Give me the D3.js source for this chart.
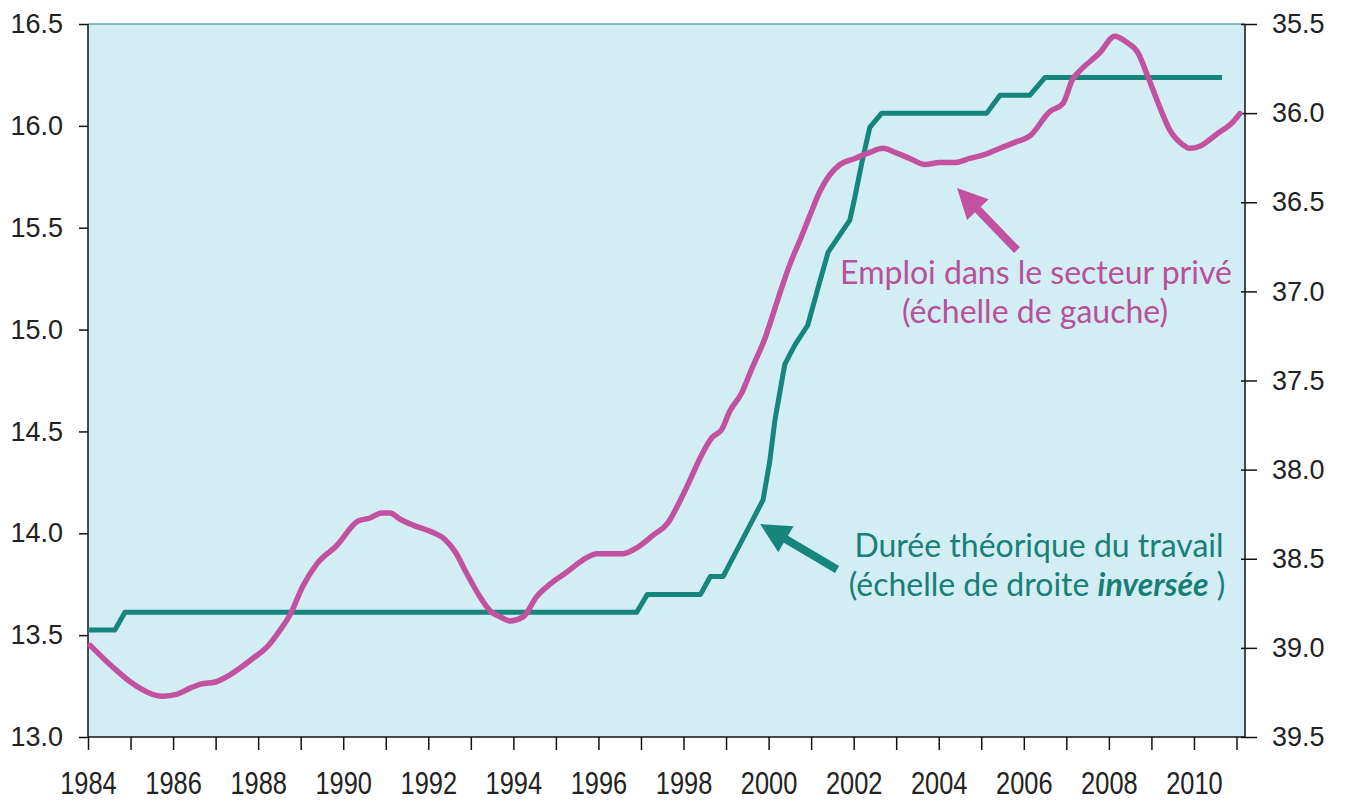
<!DOCTYPE html>
<html>
<head>
<meta charset="utf-8">
<script src="https://cdn.jsdelivr.net/npm/d3@7"></script>
<style>
  html, body { margin: 0; padding: 0; background: #ffffff; }
  svg { display: block; }
</style>
</head>
<body>
<svg id="chart" width="1347" height="803"></svg>
<script>
// ---- Data ----
const empYears = [1984.05,1984.6,1985.0,1985.4,1985.75,1986.1,1986.4,1986.65,1987.0,1987.3,1987.65,1987.9,1988.2,1988.5,1988.75,
  1989.05,1989.38,1989.85,1990.35,1990.63,1990.91,1991.1,1991.33,1991.64,1992.04,1992.39,1992.63,1992.91,1993.21,1993.45,1993.69,1993.92,
  1994.23,1994.55,1994.86,1995.26,1995.64,1995.97,1996.27,1996.58,1996.91,1997.28,1997.63,1997.92,1998.15,1998.39,1998.67,1998.9,
  1999.09,1999.37,1999.61,1999.92,2000.22,2000.5,2000.74,2000.97,2001.21,2001.44,2001.68,2002.03,2002.38,2002.69,2002.97,2003.32,
  2003.68,2004.03,2004.38,2004.73,2005.09,2005.44,2005.8,2006.14,2006.61,2006.92,2007.15,2007.27,2007.79,2008.14,2008.42,2008.68,
  2008.92,2009.2,2009.43,2009.72,2009.9,2010.14,2010.54,2010.92,2011.08];
const empValues = [13.45,13.34,13.27,13.22,13.20,13.21,13.24,13.26,13.27,13.30,13.35,13.39,13.44,13.52,13.60,
  13.74,13.85,13.94,14.06,14.075,14.10,14.10,14.07,14.04,14.01,13.97,13.91,13.80,13.69,13.62,13.59,13.57,
  13.59,13.69,13.75,13.81,13.87,13.90,13.90,13.90,13.93,13.99,14.05,14.16,14.26,14.37,14.47,14.51,
  14.60,14.69,14.81,14.96,15.15,15.32,15.44,15.56,15.68,15.76,15.81,15.84,15.87,15.89,15.87,15.84,
  15.81,15.82,15.82,15.84,15.86,15.89,15.92,15.95,16.07,16.11,16.23,16.26,16.36,16.44,16.41,16.36,
  16.24,16.09,15.98,15.91,15.89,15.90,15.96,16.02,16.06];

const durYears = [1984.0,1984.63,1984.87,1996.9,1997.15,1998.4,1998.63,1998.93,1999.63,1999.87,2000.03,2000.15,2000.38,2000.62,
  2000.92,2001.21,2001.4,2001.91,2002.03,2002.19,2002.38,2002.66,2005.13,2005.44,2006.14,2006.5,2010.66];
const durValues = [38.9,38.9,38.8,38.8,38.7,38.7,38.6,38.6,38.28,38.17,37.95,37.72,37.41,37.30,
  37.19,36.94,36.78,36.60,36.47,36.28,36.08,36.0,36.0,35.9,35.9,35.8,35.8];

const xTicks = d3.range(1984, 2012, 1);
const xLabels = d3.range(1984, 2012, 2);
const leftTicks = [13.0,13.5,14.0,14.5,15.0,15.5,16.0,16.5];
const rightTicks = [35.5,36.0,36.5,37.0,37.5,38.0,38.5,39.0,39.5];

const empLabel = ["Emploi dans le secteur privé", "(échelle de gauche)"];
const durLabel1 = "Durée théorique du travail";
const durLabel2a = "(échelle de droite ";
const durLabel2b = "inversée";
const durLabel2c = " )";

// ---- Layout ----
const L = 88, R = 1245, T = 24, B = 737;
const MAG = "#c2529f", TEAL = "#16857b", MAGTXT = "#b8509a", TEALTXT = "#187f77";

const svg = d3.select("#chart");
const x = d3.scaleLinear().domain([1984, 2011.2]).range([L, R]);
const yL = d3.scaleLinear().domain([13, 16.5]).range([B, T]);
const yR = d3.scaleLinear().domain([35.5, 39.5]).range([T, B]);

// plot background
svg.append("rect").attr("x", L).attr("y", T).attr("width", R - L).attr("height", B - T).attr("fill", "#d3edf4");
svg.append("line").attr("x1", L).attr("x2", R).attr("y1", T).attr("y2", T).attr("stroke", "#6aa8aa").attr("stroke-width", 1.5);

const numFont = "'Liberation Sans', Arial, sans-serif";

// Left axis
const gL = svg.append("g").attr("transform", `translate(${L},0)`)
  .call(d3.axisLeft(yL).tickValues(leftTicks).tickFormat(d3.format(".1f")).tickSize(9).tickPadding(16));
// Right axis
const gR = svg.append("g").attr("transform", `translate(${R},0)`)
  .call(d3.axisRight(yR).tickValues(rightTicks).tickFormat(d3.format(".1f")).tickSize(12).tickPadding(15));
gR.selectAll(".tick line").attr("x1", -4);
// Bottom axis
const gB = svg.append("g").attr("transform", `translate(0,${B})`)
  .call(d3.axisBottom(x).tickValues(xTicks).tickFormat(d => xLabels.includes(d) ? d : "").tickSize(13).tickPadding(22));

[gL, gR].forEach(g => {
  g.selectAll("text").attr("font-family", numFont).attr("font-size", 27).attr("fill", "#222");
});
gB.selectAll("text").attr("font-family", numFont)
  .attr("font-size", 31).attr("fill", "#222").attr("transform", "scale(0.82,1)");
[gL, gR, gB].forEach(g => {
  g.selectAll(".domain").attr("stroke", "#111").attr("stroke-width", 1.5);
  g.selectAll(".tick line").attr("stroke", "#111").attr("stroke-width", 1.5);
});
gB.select(".domain").attr("d", `M${L},0H${R}`);
gL.select(".domain").attr("d", `M0,${T}V${B}`);
gR.select(".domain").attr("d", `M0,${T}V${B}`);

// Lines
const empData = empYears.map((d, i) => [d, empValues[i]]);
const durData = durYears.map((d, i) => [d, durValues[i]]);

svg.append("path").datum(durData)
  .attr("fill", "none").attr("stroke", TEAL).attr("stroke-width", 5).attr("stroke-linejoin", "round")
  .attr("d", d3.line().x(d => x(d[0])).y(d => yR(d[1])));

svg.append("path").datum(empData)
  .attr("fill", "none").attr("stroke", MAG).attr("stroke-width", 5.5).attr("stroke-linejoin", "round").attr("stroke-linecap", "round")
  .attr("d", d3.line().curve(d3.curveMonotoneX).x(d => x(d[0])).y(d => yL(d[1])));

// Arrows (positioned in data space)
function arrow(x1, y1, x2, y2, color) {
  const dx = x2 - x1, dy = y2 - y1, len = Math.hypot(dx, dy);
  const ux = dx / len, uy = dy / len, px = -uy, py = ux;
  const headLen = 30, headW = 15;
  const bx = x2 - ux * headLen, by = y2 - uy * headLen;
  svg.append("line").attr("x1", x1).attr("y1", y1).attr("x2", bx + ux * 2).attr("y2", by + uy * 2)
    .attr("stroke", color).attr("stroke-width", 8);
  svg.append("path")
    .attr("d", `M${x2},${y2}L${bx + px * headW},${by + py * headW}L${bx - px * headW},${by - py * headW}Z`)
    .attr("fill", color);
}
arrow(x(2005.84), yL(15.39), x(2004.43), yL(15.695), MAG);
arrow(x(2001.61), yR(38.56), x(1999.80), yR(38.305), TEAL);

// Annotation text
const annFont = "Lato, 'Open Sans', sans-serif";
const fs = 32;
svg.append("text").attr("x", 1036).attr("y", 284).attr("text-anchor", "middle")
  .attr("font-family", annFont).attr("font-size", fs).attr("fill", MAGTXT).text(empLabel[0]);
svg.append("text").attr("x", 1035).attr("y", 323).attr("text-anchor", "middle")
  .attr("font-family", annFont).attr("font-size", fs).attr("fill", MAGTXT).text(empLabel[1]);
svg.append("text").attr("x", 1039).attr("y", 557).attr("text-anchor", "middle")
  .attr("font-family", annFont).attr("font-size", fs).attr("fill", TEALTXT).text(durLabel1);
const t2 = svg.append("text").attr("x", 1037).attr("y", 596).attr("text-anchor", "middle")
  .attr("font-family", annFont).attr("font-size", fs).attr("fill", TEALTXT);
t2.append("tspan").text(durLabel2a);
t2.append("tspan").attr("font-weight", "bold").attr("font-style", "italic").text(durLabel2b);
t2.append("tspan").text(durLabel2c);
</script>
</body>
</html>
